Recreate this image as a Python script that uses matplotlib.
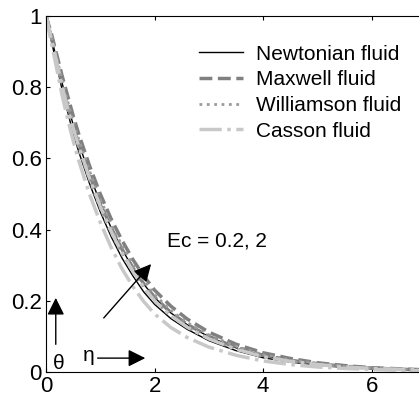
import matplotlib
matplotlib.use('Agg')
import matplotlib.pyplot as plt

plt.rcParams['font.family'] = ['Liberation Sans', 'DejaVu Sans']

eta = [0, 0.1, 0.2, 0.3, 0.4, 0.5, 0.6, 0.8, 1.0, 1.2, 1.4, 1.6, 1.8, 2.0,
       2.3, 2.6, 3.0, 3.5, 4.0, 4.5, 5.0, 5.5, 6.0, 7.0]

# Ec = 0.2
newt_1 = [1, 0.93, 0.86, 0.79, 0.73, 0.67, 0.62, 0.53, 0.45, 0.38, 0.32, 0.27, 0.225, 0.19,
          0.15, 0.12, 0.088, 0.06, 0.04, 0.028, 0.019, 0.013, 0.009, 0.004]
maxw_1 = [1, 0.94, 0.875, 0.81, 0.75, 0.695, 0.645, 0.555, 0.475, 0.405, 0.345, 0.293, 0.248, 0.21,
          0.167, 0.134, 0.1, 0.069, 0.047, 0.033, 0.023, 0.016, 0.011, 0.005]
will_1 = [1, 0.935, 0.865, 0.80, 0.74, 0.68, 0.63, 0.54, 0.46, 0.39, 0.33, 0.28, 0.235, 0.198,
          0.157, 0.126, 0.093, 0.064, 0.043, 0.03, 0.021, 0.014, 0.01, 0.005]
cass_1 = [1, 0.925, 0.85, 0.775, 0.71, 0.65, 0.595, 0.50, 0.42, 0.35, 0.29, 0.24, 0.198, 0.163,
          0.125, 0.097, 0.07, 0.047, 0.031, 0.021, 0.014, 0.01, 0.007, 0.003]

# Ec = 2
newt_2 = [1, 0.94, 0.875, 0.81, 0.75, 0.695, 0.645, 0.555, 0.475, 0.405, 0.345, 0.292, 0.247, 0.209,
          0.166, 0.133, 0.099, 0.068, 0.046, 0.032, 0.022, 0.015, 0.011, 0.005]
maxw_2 = [1, 0.95, 0.89, 0.83, 0.775, 0.72, 0.67, 0.58, 0.5, 0.43, 0.37, 0.316, 0.27, 0.23,
          0.185, 0.149, 0.112, 0.078, 0.054, 0.038, 0.026, 0.018, 0.012, 0.006]
will_2 = [1, 0.945, 0.88, 0.82, 0.76, 0.705, 0.655, 0.565, 0.485, 0.415, 0.355, 0.302, 0.256, 0.217,
          0.173, 0.139, 0.104, 0.072, 0.049, 0.034, 0.024, 0.016, 0.011, 0.006]
cass_2 = [1, 0.935, 0.87, 0.80, 0.74, 0.685, 0.635, 0.545, 0.465, 0.395, 0.335, 0.283, 0.238, 0.2,
          0.158, 0.126, 0.093, 0.064, 0.043, 0.03, 0.021, 0.014, 0.01, 0.005]

labels = ['Newtonian fluid', 'Maxwell fluid', 'Williamson fluid', 'Casson fluid']

fig = plt.figure(figsize=(4.19, 3.98), dpi=100)
ax = fig.add_axes([46/419, 26/398, 380/419, 356/398])

styles = [
    dict(color='k', ls='-', lw=1.0),
    dict(color='#808080', ls='--', lw=2.5),
    dict(color='#9a9a9a', ls=':', lw=2.0),
    dict(color='#c8c8c8', ls='-.', lw=2.5),
]
series = [(newt_1, newt_2), (maxw_1, maxw_2), (will_1, will_2), (cass_1, cass_2)]

for (s1, s2), st, lab in zip(series, styles, labels):
    ax.plot(eta, s1, label=lab, **st)
    ax.plot(eta, s2, **st)

ax.set_xlim(0, 7)
ax.set_ylim(0, 1)
ax.set_xticks([0, 2, 4, 6])
ax.set_yticks([0, 0.2, 0.4, 0.6, 0.8, 1])
ax.set_yticklabels(['0', '0.2', '0.4', '0.6', '0.8', '1'])
ax.tick_params(direction='in', labelsize=16, top=True, length=3, pad=3)
ax.spines['right'].set_visible(False)

leg = ax.legend(loc='upper left', bbox_to_anchor=(0.352, 0.972), frameon=False,
                fontsize=15, handlelength=2.15, labelspacing=0.32, handletextpad=0.62)

arr = dict(arrowstyle='-|>', mutation_scale=26, color='k', lw=1)
ax.annotate('', xy=(1.97, 0.309), xytext=(1.03, 0.146), arrowprops=arr)
ax.text(2.23, 0.368, 'Ec = 0.2, 2', fontsize=15, va='center', ha='left')

ax.annotate('', xy=(0.18, 0.216), xytext=(0.18, 0.07), arrowprops=arr)
ax.text(0.24, 0.025, 'θ', fontsize=15, va='center', ha='center')
ax.annotate('', xy=(1.88, 0.039), xytext=(0.9, 0.039), arrowprops=arr)
ax.text(0.79, 0.045, 'η', fontsize=15, va='center', ha='center')

fig.savefig('out.png', dpi=100)
